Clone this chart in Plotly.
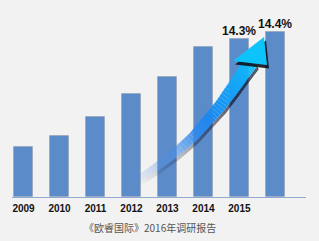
import numpy as np
import plotly.graph_objects as go

# ---- data ----
years = ["2009", "2010", "2011", "2012", "2013", "2014", "2015", ""]
values = [50, 61, 80, 103, 120, 150, 158, 165]
growth_labels = {6: "14.3%", 7: "14.4%"}
caption = "《欧睿国际》2016年调研报告"

# decorative trend arrow centerline (in pixel-like units of the figure)
ARROW_PX = [(134, 182), (155, 168), (175, 153), (193, 137), (207, 121),
            (220, 106), (233, 88), (244, 72), (251, 62)]
ARROW_HEAD_PX = [(233, 61), (264, 37), (267, 65)]

W, H = 319, 241
L, R, T, B = 12, 13, 10, 44
x0, x1 = -0.32, 7.85
y0, y1 = 0, H - T - B

pw = W - L - R
def px2x(px):
    return x0 + (px - L) / pw * (x1 - x0)
def py2y(py):
    return (H - B) - py

fig = go.Figure()

xs = list(range(len(years)))
fig.add_trace(go.Bar(
    x=xs, y=values, width=0.53,
    marker=dict(color="#5b8bc9", line=dict(color="rgba(140,140,140,0.35)", width=1)),
    hoverinfo="skip", showlegend=False,
))

pts = np.array(ARROW_PX, dtype=float)
dense = []
for i in range(len(pts) - 1):
    for s in np.linspace(0, 1, 6, endpoint=False):
        dense.append(pts[i] * (1 - s) + pts[i + 1] * s)
dense.append(pts[-1])
dense = np.array(dense)
n = len(dense)
tang = np.gradient(dense, axis=0)
tang /= np.linalg.norm(tang, axis=1)[:, None]
norm = np.stack([tang[:, 1], -tang[:, 0]], axis=1)
hw = np.linspace(3.5, 7.5, n)
upper = dense + norm * hw[:, None]
lower = dense - norm * hw[:, None]

def quad(a, b, c, d, color):
    xs_ = [px2x(p[0]) for p in (a, b, c, d, a)]
    ys_ = [py2y(p[1]) for p in (a, b, c, d, a)]
    fig.add_trace(go.Scatter(x=xs_, y=ys_, mode="lines", fill="toself",
                             fillcolor=color, line=dict(width=0, color=color),
                             hoverinfo="skip", showlegend=False))

for i in range(n - 1):
    t = i / (n - 1)
    a = min(1.0, t * 1.4) * 0.75
    off = np.array([1.5, 3.0])
    quad(lower[i], lower[i + 1], lower[i + 1] + off, lower[i] + off,
         f"rgba(20,20,40,{a:.2f})")

c0 = np.array([110, 150, 225])
c1 = np.array([30, 135, 240])
c2 = np.array([10, 195, 255])
for i in range(n - 1):
    t = i / (n - 1)
    if t < 0.5:
        c = c0 + (c1 - c0) * (t / 0.5)
    else:
        c = c1 + (c2 - c1) * ((t - 0.5) / 0.5)
    a = min(1.0, 0.05 + t * 2.2)
    quad(upper[i], upper[i + 1], lower[i + 1], lower[i],
         f"rgba({int(c[0])},{int(c[1])},{int(c[2])},{a:.2f})")

hp = np.array(ARROW_HEAD_PX, dtype=float)
sh = hp + np.array([2.0, 3.5])
fig.add_trace(go.Scatter(x=[px2x(p[0]) for p in list(sh) + [sh[0]]],
                         y=[py2y(p[1]) for p in list(sh) + [sh[0]]],
                         mode="lines", fill="toself", fillcolor="rgba(15,15,25,0.9)",
                         line=dict(width=0), hoverinfo="skip", showlegend=False))
fig.add_trace(go.Scatter(x=[px2x(p[0]) for p in list(hp) + [hp[0]]],
                         y=[py2y(p[1]) for p in list(hp) + [hp[0]]],
                         mode="lines", fill="toself", fillcolor="#0cc4fb",
                         line=dict(width=0), hoverinfo="skip", showlegend=False))

for i, txt in growth_labels.items():
    fig.add_annotation(x=xs[i], y=values[i], text=txt, showarrow=False,
                       yanchor="bottom", yshift=-1,
                       font=dict(family="Liberation Sans", size=12,
                                 color="#111111", weight="bold"))

fig.add_annotation(x=0.47, xref="paper", y=-0.165, yref="paper", yanchor="middle",
                   text=caption, showarrow=False,
                   font=dict(family="Noto Sans CJK SC", size=10, color="#555555"))

fig.update_layout(
    width=W, height=H,
    margin=dict(l=L, r=R, t=T, b=B),
    paper_bgcolor="#f2f2f2", plot_bgcolor="#f2f2f2",
    bargap=0,
    xaxis=dict(range=[x0, x1], tickmode="array", tickvals=xs, ticktext=years,
               showgrid=False, zeroline=False, showline=True, linecolor="#8fa9d2",
               linewidth=1, ticks="", ticklabelstandoff=2,
               tickfont=dict(family="Liberation Sans", size=10, color="#111111", weight="bold")),
    yaxis=dict(range=[y0, y1], visible=False),
    showlegend=False,
)

fig.write_html("out.html")
